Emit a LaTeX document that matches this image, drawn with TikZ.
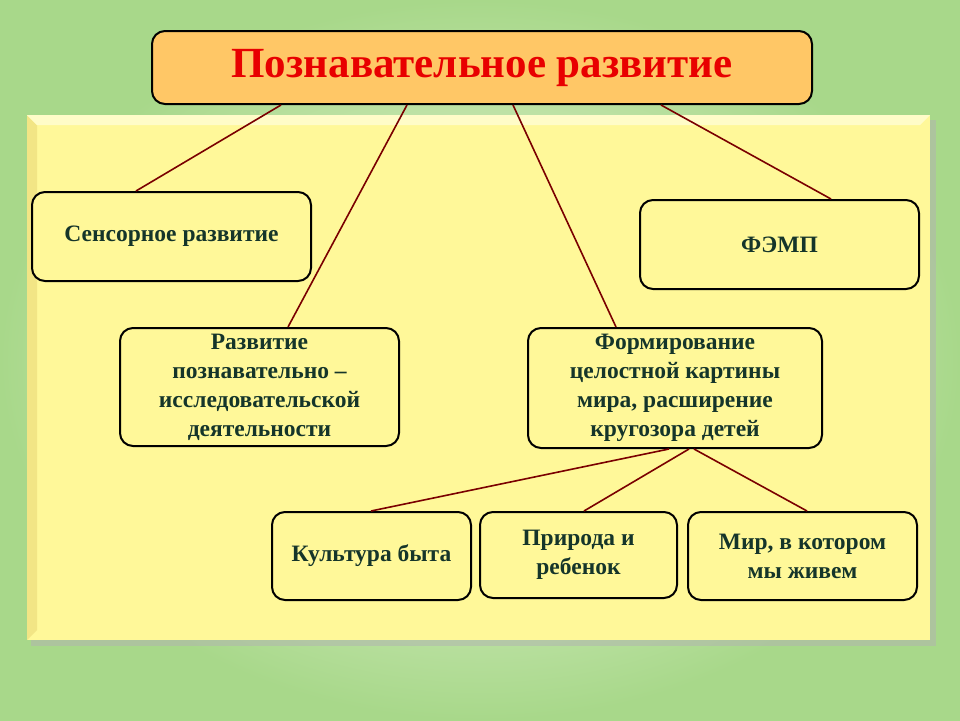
\documentclass[tikz,border=0pt]{standalone}
\usepackage{fontspec}
\setmainfont{Liberation Serif}
\usepackage{xcolor}
\definecolor{colorBack}{HTML}{A8D88A}
\definecolor{colorBackLight}{HTML}{F0F9E4}
\definecolor{colorPanel}{HTML}{FFF899}
\definecolor{colorPanelDark}{HTML}{F2E585}
\definecolor{colorPanelLight}{HTML}{FFFCC8}
\definecolor{colorTitle}{HTML}{FFC766}
\definecolor{colorTitleText}{HTML}{E80000}
\definecolor{colorText}{HTML}{15352A}
\definecolor{colorLink}{HTML}{7A0000}
\usetikzlibrary{positioning}

\begin{document}
\begin{tikzpicture}[x=1pt, y=-1pt, every node/.style={align=center},
  topic/.style={draw=black, line width=2pt, rounded corners=13pt, fill=colorPanel, text=colorText, font=\fontsize{23.5}{29}\selectfont\bfseries, inner sep=1pt},
  link/.style={colorLink, line width=1.6pt}]
\useasboundingbox (0,0) rectangle (960,720);
\shade[inner color=colorBackLight, outer color=colorBack] (0,0) rectangle (960,720);
\fill[black!30, opacity=0.5] (31,120) rectangle (936,646);
\fill[colorPanel] (27,115) rectangle (930,640);
\fill[colorPanelDark] (27,115) -- (37,125) -- (37,630) -- (27,640) -- cycle;
\fill[colorPanelLight] (27,115) -- (930,115) -- (920,125) -- (37,125) -- cycle;
\node[draw=black, line width=2pt, rounded corners=13pt, fill=colorTitle, minimum width=660pt, minimum height=73pt, text=colorTitleText, font=\fontsize{43}{48}\selectfont\bfseries] (title) at (482,67.5) {Познавательное развитие};
\node[topic, minimum width=279pt, minimum height=89pt] (sensor) at (171.5,236.5) {Сенсорное развитие};
\node[topic, minimum width=279pt, minimum height=89pt] (femp) at (779.5,244.5) {ФЭМП};
\node[topic, minimum width=279pt, minimum height=118pt] (research) at (259.5,387) {Развитие\\познавательно –\\исследовательской\\деятельности};
\node[topic, minimum width=294pt, minimum height=120pt] (world) at (675,388) {Формирование\\целостной картины\\мира, расширение\\кругозора детей};
\node[topic, minimum width=199pt, minimum height=88pt] (culture) at (371.5,556) {Культура быта};
\node[topic, minimum width=197pt, minimum height=86pt] (nature) at (578.5,555) {Природа и\\ребенок};
\node[topic, minimum width=229pt, minimum height=88pt] (society) at (802.5,556) {Мир, в котором\\мы живем};
\draw[link] ([xshift=130pt]title.south west) -- ([xshift=105pt]sensor.north west);
\draw[link] ([xshift=256pt]title.south west) -- ([xshift=169pt]research.north west);
\draw[link] ([xshift=362pt]title.south west) -- ([xshift=89pt]world.north west);
\draw[link] ([xshift=510pt]title.south west) -- ([xshift=192pt]femp.north west);
\draw[link] ([xshift=142pt]world.south west) -- ([xshift=100pt]culture.north west);
\draw[link] ([xshift=162pt]world.south west) -- ([xshift=105pt]nature.north west);
\draw[link] ([xshift=167pt]world.south west) -- ([xshift=120pt]society.north west);
\end{tikzpicture}
\end{document}
